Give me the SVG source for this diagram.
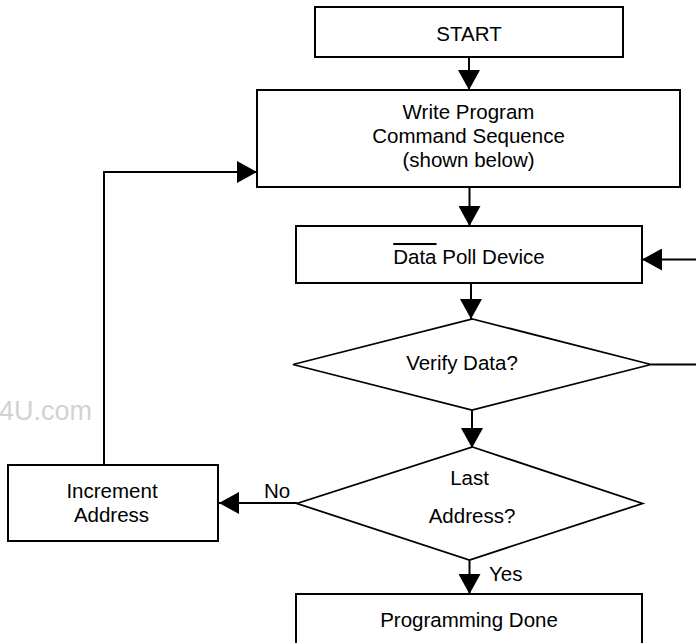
<svg xmlns="http://www.w3.org/2000/svg" width="696" height="643" viewBox="0 0 696 643">
<defs>
<marker id="arr" markerUnits="userSpaceOnUse" markerWidth="21" markerHeight="22" refX="20" refY="11" orient="auto" viewBox="0 0 21 22">
<path d="M0,0 L20,11 L0,22 z" fill="#000"/>
</marker>
<style>
.box{fill:#fff;stroke:#000;stroke-width:2}
.dia{fill:#fff;stroke:#000;stroke-width:1.8}
.t{font-family:"Liberation Sans",Arial,sans-serif;font-size:20.5px;fill:#000}
.c{text-anchor:middle}
.ln{fill:none;stroke:#000;stroke-width:2}
.wm{font-family:"Liberation Sans",Arial,sans-serif;font-size:27px;fill:#d2d2d2;text-anchor:end}
</style>
</defs>
<rect width="696" height="643" fill="#fff"/>
<text class="wm" x="92" y="420">4U.com</text>
<g id="connectors">
<line class="ln" x1="469" y1="57" x2="469" y2="90" marker-end="url(#arr)"/>
<line class="ln" x1="469.5" y1="187" x2="469.5" y2="226" marker-end="url(#arr)"/>
<line class="ln" x1="698" y1="259.5" x2="642" y2="259.5" marker-end="url(#arr)"/>
<line class="ln" x1="471" y1="283" x2="471" y2="319" marker-end="url(#arr)"/>
<line class="ln" x1="651" y1="364.5" x2="698" y2="364.5"/>
<line class="ln" x1="472" y1="410" x2="472" y2="448" marker-end="url(#arr)"/>
<line class="ln" x1="297" y1="503" x2="219" y2="503" marker-end="url(#arr)"/>
<polyline class="ln" points="104,465 104,172 257,172" marker-end="url(#arr)"/>
<line class="ln" x1="469.5" y1="560" x2="469.5" y2="594" marker-end="url(#arr)"/>
<text class="t" x="264" y="497.5">No</text>
<text class="t" x="489" y="581">Yes</text>
</g>
<g id="start">
<rect class="box" x="315" y="7" width="308" height="50"/>
<text class="t c" x="469" y="40.5">START</text>
</g>
<g id="write">
<rect class="box" x="257" y="90" width="423" height="97"/>
<text class="t c" x="468.5" y="119">Write Program</text>
<text class="t c" x="468.5" y="143">Command Sequence</text>
<text class="t c" x="468.5" y="167">(shown below)</text>
</g>
<g id="datapoll">
<rect class="box" x="296" y="226" width="346" height="57"/>
<text class="t c" x="469" y="264"><tspan text-decoration="overline">Data</tspan> Poll Device</text>
</g>
<g id="verify">
<polygon class="dia" points="472.5,319 651,364.5 472,410 293,364.5"/>
<text class="t c" x="462" y="370">Verify Data?</text>
</g>
<g id="last">
<polygon class="dia" points="472.5,447 642.5,503.5 469.5,560 297,503.5"/>
<text class="t c" x="469.5" y="485">Last</text>
<text class="t c" x="472" y="523.3">Address?</text>
</g>
<g id="increment">
<rect class="box" x="8" y="465" width="210" height="76"/>
<text class="t c" x="112" y="498.3">Increment</text>
<text class="t c" x="111.5" y="521.7">Address</text>
</g>
<g id="done">
<rect class="box" x="296" y="594" width="346" height="60"/>
<text class="t c" x="469" y="626.7">Programming Done</text>
</g>
</svg>
